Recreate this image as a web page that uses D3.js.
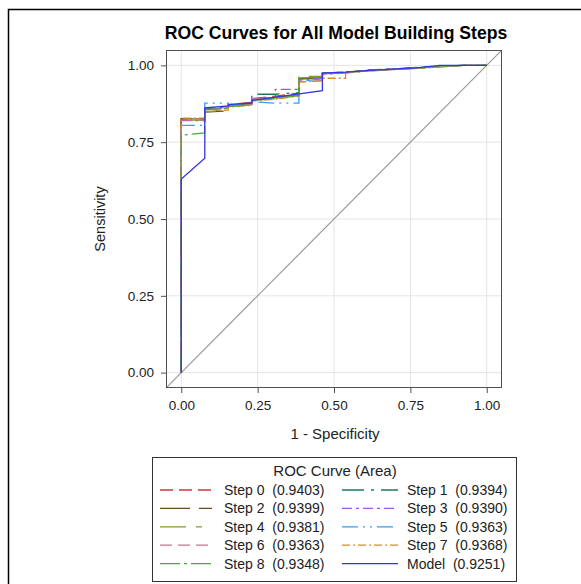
<!DOCTYPE html>
<html><head><meta charset="utf-8">
<script src="https://cdn.jsdelivr.net/npm/d3@7"></script>
<style>
html,body{margin:0;padding:0;background:#fff;}
text{font-family:"Liberation Sans",Arial,sans-serif;}
</style></head>
<body>
<svg id="chart" width="581" height="584"></svg>
<script>
// ---- data ----
const seriesNames = ["Step 0","Step 1","Step 2","Step 3","Step 4","Step 5","Step 6","Step 7","Step 8","Model"];
const seriesAreas = ["0.9403","0.9394","0.9399","0.9390","0.9381","0.9363","0.9363","0.9368","0.9348","0.9251"];
const xTicks = [0, 0.25, 0.5, 0.75, 1];
const yTicks = [0, 0.25, 0.5, 0.75, 1];

const step0 = [[0,0],[0,0.826],[0.077,0.826],[0.077,0.860],[0.154,0.866],[0.154,0.872],[0.231,0.880],[0.231,0.892],[0.308,0.900],[0.385,0.910],[0.385,0.955],[0.462,0.962],[0.462,0.974],[0.538,0.978],[0.615,0.985],[0.692,0.988],[0.769,0.992],[0.846,0.997],[0.923,1],[1,1]];
const step1 = [[0,0],[0,0.826],[0.077,0.826],[0.077,0.858],[0.154,0.864],[0.154,0.870],[0.231,0.876],[0.231,0.906],[0.308,0.906],[0.385,0.912],[0.385,0.958],[0.462,0.962],[0.462,0.975],[0.538,0.978],[0.615,0.984],[0.692,0.988],[0.769,0.993],[0.846,0.997],[0.923,1],[1,1]];
const step2 = [[0,0],[0,0.826],[0.077,0.826],[0.077,0.848],[0.154,0.852],[0.154,0.868],[0.231,0.876],[0.231,0.888],[0.308,0.896],[0.385,0.905],[0.385,0.956],[0.462,0.960],[0.462,0.974],[0.538,0.977],[0.615,0.984],[0.692,0.987],[0.769,0.992],[0.846,0.996],[0.923,1],[1,1]];
const step3 = [[0,0],[0,0.820],[0.077,0.820],[0.077,0.858],[0.154,0.862],[0.154,0.868],[0.231,0.874],[0.231,0.890],[0.308,0.896],[0.308,0.922],[0.385,0.922],[0.385,0.952],[0.462,0.958],[0.462,0.972],[0.538,0.976],[0.615,0.984],[0.692,0.988],[0.769,0.992],[0.846,0.996],[0.923,1],[1,1]];
const step4 = [[0,0],[0,0.822],[0.077,0.822],[0.077,0.852],[0.154,0.856],[0.154,0.866],[0.231,0.872],[0.231,0.886],[0.308,0.892],[0.385,0.902],[0.385,0.964],[0.462,0.964],[0.462,0.974],[0.538,0.977],[0.615,0.983],[0.692,0.987],[0.769,0.991],[0.846,0.996],[0.923,1],[1,1]];
const step5 = [[0,0],[0,0.805],[0.077,0.805],[0.077,0.877],[0.154,0.877],[0.154,0.872],[0.231,0.876],[0.231,0.882],[0.308,0.877],[0.385,0.877],[0.385,0.948],[0.462,0.956],[0.462,0.970],[0.538,0.975],[0.615,0.982],[0.692,0.986],[0.769,0.990],[0.846,0.995],[0.923,1],[1,1]];
const step6 = [[0,0],[0,0.822],[0.077,0.822],[0.077,0.856],[0.154,0.860],[0.154,0.866],[0.231,0.872],[0.231,0.890],[0.308,0.896],[0.385,0.904],[0.385,0.946],[0.462,0.950],[0.462,0.972],[0.538,0.976],[0.615,0.983],[0.692,0.987],[0.769,0.991],[0.846,0.996],[0.923,1],[1,1]];
const step7 = [[0,0],[0,0.828],[0.077,0.828],[0.077,0.850],[0.154,0.854],[0.154,0.864],[0.231,0.870],[0.231,0.884],[0.308,0.890],[0.385,0.900],[0.385,0.946],[0.462,0.950],[0.462,0.958],[0.538,0.958],[0.538,0.976],[0.615,0.982],[0.692,0.986],[0.769,0.990],[0.846,0.995],[0.923,1],[1,1]];
const step8 = [[0,0],[0,0.773],[0.077,0.780],[0.077,0.855],[0.154,0.860],[0.154,0.866],[0.231,0.872],[0.231,0.886],[0.308,0.892],[0.385,0.902],[0.385,0.958],[0.462,0.962],[0.462,0.973],[0.538,0.977],[0.615,0.983],[0.692,0.987],[0.769,0.991],[0.846,0.996],[0.923,1],[1,1]];
const model = [[0,0],[0,0.630],[0.077,0.698],[0.077,0.862],[0.154,0.868],[0.154,0.872],[0.231,0.878],[0.231,0.886],[0.462,0.918],[0.462,0.975],[0.538,0.978],[0.615,0.984],[0.692,0.988],[0.769,0.992],[0.846,1],[1,1]];

const seriesData = [step0,step1,step2,step3,step4,step5,step6,step7,step8,model];
const seriesColors = ["#D4343F","#1B7A60","#6B4A1E","#A552E6","#8A9A22","#3A9CF7","#C97393","#D98A2E","#45B035","#3434E6"];
const seriesDash = ["13,6","22,7,3,7","30,9","10,4,3,4","26,10,6,10","16,5,2,5,2,5","12,6","8,3,2,3","20,4,3,4",null];

// ---- layout ----
const svg = d3.select("#chart");
const L = 166, R = 502, T = 50, B = 388;
const x = d3.scaleLinear().domain([-0.05, 1.05]).range([L, R]);
const y = d3.scaleLinear().domain([-0.05, 1.05]).range([B, T]);

// page border
svg.append("path").attr("d", `M8.5,584 L8.5,9.5 L581,9.5`).attr("fill","none").attr("stroke","#000").attr("stroke-width",1.5);

// title
svg.append("text").attr("x", 336).attr("y", 39).attr("text-anchor","middle")
  .attr("font-size", 17.6).attr("font-weight","bold").attr("fill","#000")
  .text("ROC Curves for All Model Building Steps");

// gridlines
svg.append("g").selectAll("line").data(xTicks).join("line")
  .attr("x1", d => x(d)).attr("x2", d => x(d)).attr("y1", T).attr("y2", B)
  .attr("stroke", "#e4e4e4").attr("stroke-width", 1);
svg.append("g").selectAll("line").data(yTicks).join("line")
  .attr("y1", d => y(d)).attr("y2", d => y(d)).attr("x1", L).attr("x2", R)
  .attr("stroke", "#e4e4e4").attr("stroke-width", 1);

// clip
svg.append("clipPath").attr("id","clip").append("rect").attr("x",L).attr("y",T).attr("width",R-L).attr("height",B-T);

// diagonal
svg.append("line").attr("clip-path","url(#clip)")
  .attr("x1", x(-0.05)).attr("y1", y(-0.05)).attr("x2", x(1.05)).attr("y2", y(1.05))
  .attr("stroke", "#9a9a9a").attr("stroke-width", 1.2);

// curves
const line = d3.line().x(d => x(d[0])).y(d => y(d[1]));
const gCurves = svg.append("g").attr("clip-path","url(#clip)");
seriesData.forEach((s, i) => {
  gCurves.append("path").attr("d", line(s)).attr("fill","none")
    .attr("stroke", seriesColors[i]).attr("stroke-width", 1.3)
    .attr("stroke-dasharray", seriesDash[i]);
});
// frame
svg.append("rect").attr("x", L+0.5).attr("y", T+0.5).attr("width", R-L-1).attr("height", B-T-1)
  .attr("fill","none").attr("stroke","#505050").attr("stroke-width",1);

// axes
const fmt = d3.format(".2f");
const xAxis = svg.append("g").attr("transform", `translate(0,${B})`)
  .call(d3.axisBottom(x).tickValues(xTicks).tickFormat(fmt).tickSize(5).tickPadding(7));
const yAxis = svg.append("g").attr("transform", `translate(${L},0)`)
  .call(d3.axisLeft(y).tickValues(yTicks).tickFormat(fmt).tickSize(5).tickPadding(7));
[xAxis, yAxis].forEach(a => {
  a.select(".domain").remove();
  a.selectAll(".tick line").attr("stroke","#505050");
  a.selectAll(".tick text").attr("font-size", 13.5).attr("fill","#222")
    .attr("font-family",'"Liberation Sans",Arial,sans-serif');
});

// axis labels
svg.append("text").attr("x", 335).attr("y", 439).attr("text-anchor","middle")
  .attr("font-size", 15).attr("fill","#222").text("1 - Specificity");
svg.append("text").attr("transform", `translate(105,${(T+B)/2}) rotate(-90)`)
  .attr("text-anchor","middle").attr("font-size", 14.5).attr("fill","#222").text("Sensitivity");

// legend
const lg = svg.append("g");
lg.append("rect").attr("x", 152.5).attr("y", 457.5).attr("width", 364).attr("height", 124)
  .attr("fill","#fff").attr("stroke","#333").attr("stroke-width",1);
lg.append("text").attr("x", 335).attr("y", 476).attr("text-anchor","middle")
  .attr("font-size", 15).attr("fill","#222").text("ROC Curve (Area)");
seriesNames.forEach((n, i) => {
  const col = i % 2, row = Math.floor(i / 2);
  const ly = 490 + row * 18.4;
  const lx0 = col === 0 ? 160 : 342;
  const lx1 = col === 0 ? 212 : 398;
  const tx = col === 0 ? 224 : 407;
  lg.append("line").attr("x1", lx0).attr("x2", lx1).attr("y1", ly).attr("y2", ly)
    .attr("stroke", seriesColors[i]).attr("stroke-width", 1.3)
    .attr("stroke-dasharray", seriesDash[i]);
  lg.append("text").attr("x", tx).attr("y", ly + 5).attr("font-size", 14).attr("fill","#222")
    .attr("xml:space","preserve").style("white-space","pre")
    .text(`${n}  (${seriesAreas[i]})`);
});
</script>
</body></html>
